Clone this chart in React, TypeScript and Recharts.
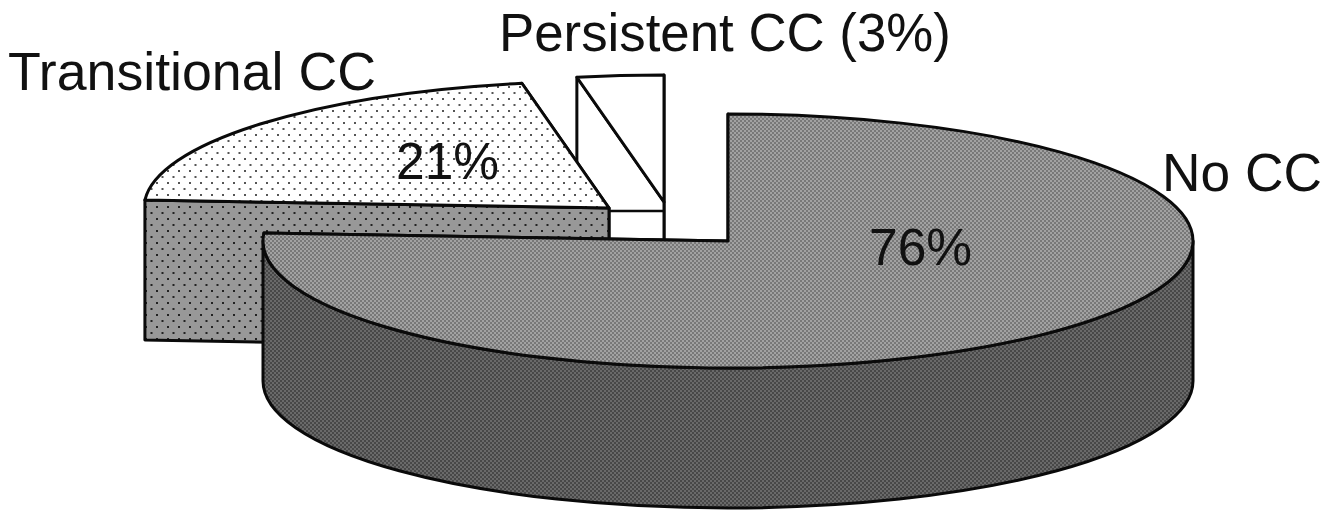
import React from 'react';
import { PieChart, Pie } from 'recharts';

const categories = ['Persistent CC', 'Transitional CC', 'No CC'];
const shares = [3, 21, 76];

const pieData = categories.map((name, i) => ({ name, value: shares[i] }));

const WIDTH = 1344;
const HEIGHT = 510;
const TILT = 127 / 465; // vertical squash of the disc
const DEPTH = 140; // height of the extruded walls

// how far each slice is pulled out of the disc
const EXPLODE: Record<string, [number, number]> = {
  'Persistent CC': [-64, -39],
  'Transitional CC': [-119, -33],
  'No CC': [0, 0],
};

const FILLS: Record<string, { top: string; wall: string }> = {
  'Persistent CC': { top: '#ffffff', wall: '#ffffff' },
  'Transitional CC': { top: 'url(#dotsLight)', wall: 'url(#dotsGrey)' },
  'No CC': { top: 'url(#checkTop)', wall: 'url(#checkWall)' },
};

const LINE = '#0a0a0a';

function Slice3D(props: any) {
  const { cx, cy, outerRadius: rx, startAngle, endAngle } = props;
  const name: string = props.name ?? props.payload?.name;
  const [dx, dy] = EXPLODE[name];
  const ax = cx + dx;
  const ay = cy + dy;
  const ry = rx * TILT;
  const at = (deg: number) => {
    const r = (deg * Math.PI) / 180;
    return [ax + rx * Math.cos(r), ay - ry * Math.sin(r)];
  };
  const [sx, sy] = at(startAngle);
  const [ex, ey] = at(endAngle);
  const large = endAngle - startAngle > 180 ? 1 : 0;
  const fill = FILLS[name];
  const common = { stroke: LINE, strokeWidth: 3, strokeLinejoin: 'round' as const };

  const wallTo = (x: number, y: number) =>
    `M${ax},${ay} L${x},${y} L${x},${y + DEPTH} L${ax},${ay + DEPTH} Z`;

  return (
    <g>
      <path d={wallTo(sx, sy)} fill={fill.wall} {...common} />
      <path d={wallTo(ex, ey)} fill={fill.wall} {...common} />
      {/* front rim, only for a slice that spans the near half of the disc */}
      {startAngle <= 180 && endAngle >= 360 && (
        <path
          d={`M${ax + rx},${ay} L${ax + rx},${ay + DEPTH} A${rx},${ry} 0 0 1 ${ax - rx},${ay + DEPTH} L${ax - rx},${ay} A${rx},${ry} 0 0 0 ${ax + rx},${ay} Z`}
          fill={fill.wall}
          {...common}
        />
      )}
      <path
        d={`M${ax},${ay} L${sx},${sy} A${rx},${ry} 0 ${large} 0 ${ex},${ey} Z`}
        fill={fill.top}
        {...common}
      />
      {name === 'Persistent CC' && (
        <line x1={ax - 55} y1={ay + 9} x2={ax} y2={ay + 9} stroke={LINE} strokeWidth={2.5} />
      )}
    </g>
  );
}

const FONT = { fontFamily: '"Liberation Sans", Arial, sans-serif', fill: '#111' };

function SliceLabel(props: any) {
  const name: string = props.name ?? props.payload?.name;
  const pct = `${props.value}%`;
  if (name === 'Persistent CC') {
    return (
      <text x={499} y={51} fontSize={52.8} {...FONT}>
        {`${name} (${pct})`}
      </text>
    );
  }
  // name x, name y, name size, percent x, percent y
  const spots: Record<string, number[]> = {
    'Transitional CC': [8, 90, 53.7, 396, 179],
    'No CC': [1162, 191, 53.3, 869, 265],
  };
  const [nx, ny, size, px, py] = spots[name];
  return (
    <g>
      <text x={nx} y={ny} fontSize={size} {...FONT}>
        {name}
      </text>
      <text x={px} y={py} fontSize={51.5} {...FONT}>
        {pct}
      </text>
    </g>
  );
}

export default function App() {
  return (
    <div style={{ position: 'fixed', left: 0, top: 0, width: WIDTH, height: HEIGHT, background: '#fff' }}>
      <PieChart width={WIDTH} height={HEIGHT} margin={{ top: 0, right: 0, bottom: 0, left: 0 }}>
        <defs>
          <pattern id="dotsLight" width={11} height={12} patternUnits="userSpaceOnUse">
            <rect width={11} height={12} fill="#ffffff" />
            <rect x={2} y={2} width={2} height={2} fill="#555" />
            <rect x={7.5} y={8} width={2} height={2} fill="#555" />
          </pattern>
          <pattern id="dotsGrey" width={11} height={12} patternUnits="userSpaceOnUse">
            <rect width={11} height={12} fill="#989898" />
            <rect x={2} y={2} width={2} height={2} fill="#222" />
            <rect x={7.5} y={8} width={2} height={2} fill="#222" />
          </pattern>
          <pattern id="checkTop" width={4} height={4} patternUnits="userSpaceOnUse">
            <rect width={4} height={4} fill="#a2a2a2" />
            <rect width={2} height={2} fill="#787878" />
            <rect x={2} y={2} width={2} height={2} fill="#787878" />
          </pattern>
          <pattern id="checkWall" width={4} height={4} patternUnits="userSpaceOnUse">
            <rect width={4} height={4} fill="#6a6a6a" />
            <rect width={2} height={2} fill="#484848" />
            <rect x={2} y={2} width={2} height={2} fill="#484848" />
          </pattern>
        </defs>
        <Pie
          data={pieData}
          dataKey="value"
          nameKey="name"
          cx={728}
          cy={241}
          innerRadius={0}
          outerRadius={465}
          startAngle={90}
          endAngle={450}
          stroke="none"
          isAnimationActive={false}
          shape={Slice3D}
          inactiveShape={Slice3D}
          label={SliceLabel}
          labelLine={false}
        />
      </PieChart>
    </div>
  );
}
